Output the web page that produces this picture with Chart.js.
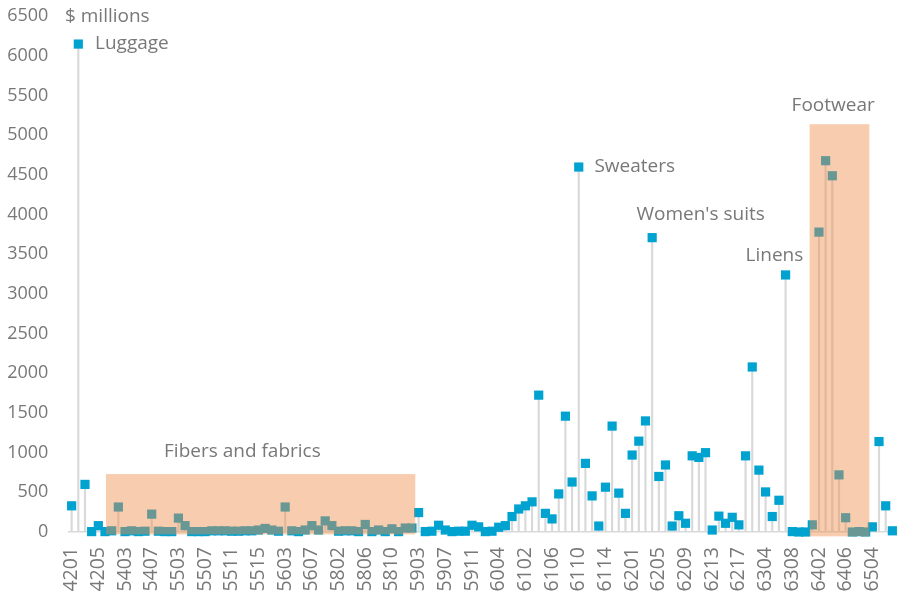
<!DOCTYPE html>
<html>
<head>
<meta charset="utf-8">
<script src="https://cdn.jsdelivr.net/npm/chart.js@4.4.1/dist/chart.umd.min.js"></script>
<style>
  html, body { margin: 0; padding: 0; background: #fff; }
  #wrap { width: 906px; height: 593px; position: relative; }
</style>
</head>
<body>
<div id="wrap"><canvas id="c" width="906" height="593"></canvas></div>
<script>
// HS product codes (categories)
const categories = [
  '4201','4202','4203','4204','4205','4206','5401','5402','5403','5404','5405','5406',
  '5407','5408','5501','5502','5503','5504','5505','5506','5507','5508','5509','5510',
  '5511','5512','5513','5514','5515','5516','5601','5602','5603','5604','5605','5606',
  '5607','5608','5609','5801','5802','5803','5804','5805','5806','5807','5808','5809',
  '5810','5811','5901','5902','5903','5904','5905','5906','5907','5908','5909','5910',
  '5911','6001','6002','6003','6004','6005','6006','6101','6102','6103','6104','6105',
  '6106','6107','6108','6109','6110','6111','6112','6113','6114','6115','6116','6117',
  '6201','6202','6203','6204','6205','6206','6207','6208','6209','6210','6211','6212',
  '6213','6214','6215','6216','6217','6301','6302','6303','6304','6305','6306','6307',
  '6308','6309','6310','6401','6402','6403','6404','6405','6406','6501','6502','6503',
  '6504','6505','6506','6507'
];
// Import values, $ millions
const values = [
  330, 6150, 600, 5, 80, 5, 15, 315, 5, 15, 5, 10,
  225, 10, 5, 5, 175, 80, 5, 5, 5, 15, 15, 15,
  10, 10, 15, 15, 25, 45, 25, 10, 315, 15, 5, 25,
  80, 25, 140, 80, 10, 15, 15, 5, 95, 5, 25, 5,
  40, 5, 50, 50, 245, 5, 10, 85, 25, 5, 10, 10,
  85, 65, 5, 10, 60, 80, 195, 290, 330, 380, 1725, 235,
  165, 480, 1460, 630, 4600, 865, 455, 75, 565, 1335, 490, 235,
  970, 1145, 1400, 3710, 700, 845, 75, 205, 110, 960, 940, 1000,
  25, 200, 110, 185, 90, 960, 2080, 780, 505, 195, 400, 3240,
  5, 0, 0, 90, 3780, 4680, 4490, 720, 180, 0, 5, 0,
  65, 1140, 330, 15
];
// Y axis ticks
const yTicks = [0, 500, 1000, 1500, 2000, 2500, 3000, 3500, 4000, 4500, 5000, 5500, 6000, 6500];
// Highlighted groups: [first position, last position, low value, high value]
const groupNames = ['Fibers and fabrics', 'Footwear'];
const groupRanges = [[5.15, 51.5, -30, 730], [110.6, 119.55, -55, 5140]];
// Text callouts in data coordinates (category position, value)
const calloutTexts = ['$ millions', 'Luggage', 'Sweaters', "Women's suits", 'Linens', 'Footwear', 'Fibers and fabrics'];
const calloutPos = [[-1.0, 6500], [3.5, 6150], [78.35, 4600], [84.64, 3995], [101.0, 3490], [107.9, 5370], [13.85, 1010]];

const FONT = '"Open Sans", Lato, sans-serif';
const TXT = '#787878';

const overlay = {
  id: 'overlay',
  afterDatasetsDraw(chart) {
    const { ctx, scales: { x, y } } = chart;
    ctx.save();
    ctx.fillStyle = 'rgba(239,138,70,0.44)';
    groupRanges.forEach(r => {
      const x0 = x.getPixelForValue(r[0]);
      const x1 = x.getPixelForValue(r[1]);
      const y0 = y.getPixelForValue(r[3]);
      const y1 = y.getPixelForValue(r[2]);
      ctx.fillRect(x0, y0, x1 - x0, y1 - y0);
    });
    ctx.fillStyle = TXT;
    ctx.font = '19px ' + FONT;
    ctx.textBaseline = 'middle';
    ctx.textAlign = 'left';
    calloutTexts.forEach((t, i) => {
      const p = calloutPos[i];
      ctx.fillText(t, x.getPixelForValue(p[0]), y.getPixelForValue(p[1]));
    });
    ctx.restore();
  }
};

new Chart(document.getElementById('c'), {
  type: 'bar',
  data: {
    labels: categories,
    datasets: [
      {
        type: 'line',
        data: values,
        showLine: false,
        pointStyle: 'rect',
        pointRadius: 6.5,
        pointHoverRadius: 6.5,
        pointBorderWidth: 0,
        pointBackgroundColor: '#00a2d0',
        pointBorderColor: '#00a2d0',
        clip: false,
        order: 0
      },
      {
        type: 'bar',
        data: values,
        backgroundColor: '#d9d9d9',
        barThickness: 1.5,
        order: 1
      }
    ]
  },
  options: {
    responsive: false,
    animation: false,
    events: [],
    layout: { padding: { top: 16.3, right: 10.3, left: 0, bottom: 0 } },
    plugins: { legend: { display: false }, tooltip: { enabled: false } },
    scales: {
      x: {
        offset: true,
        grid: { display: false, drawTicks: false },
        border: { display: true, color: '#d9d9d9', width: 1.5 },
        afterFit(s) { s.height = 61; s.paddingLeft = 0; s.paddingRight = 0; },
        ticks: {
          autoSkip: false,
          minRotation: 90,
          maxRotation: 90,
          padding: 15,
          color: TXT,
          font: { family: FONT, size: 19.5 },
          callback(v, i) { return i % 4 === 0 ? categories[i] : ''; }
        }
      },
      y: {
        min: 0,
        max: 6500,
        grid: { display: false, drawTicks: false },
        border: { display: false },
        afterFit(s) { s.width = 68.3; s.paddingTop = 0; s.paddingBottom = 0; },
        afterBuildTicks(s) { s.ticks = yTicks.map(v => ({ value: v })); },
        ticks: {
          padding: 20,
          color: TXT,
          font: { family: FONT, size: 18 },
          callback(v) { return String(v); }
        }
      }
    }
  },
  plugins: [overlay]
});
</script>
</body>
</html>
